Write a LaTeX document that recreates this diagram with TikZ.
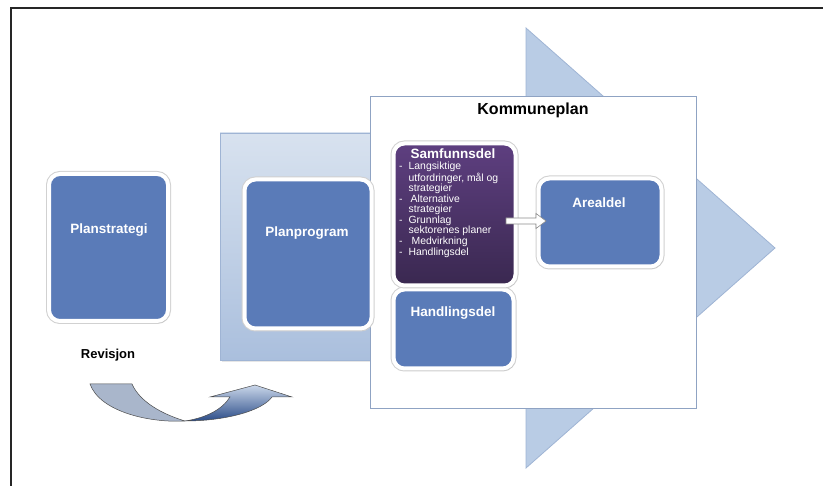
\documentclass[tikz,border=0pt]{standalone}
\usepackage{fontspec}
\setmainfont{Liberation Sans}
\usetikzlibrary{shadows,calc}
\definecolor{boxblue}{HTML}{5A7BB8}
\definecolor{purtop}{HTML}{5E3F80}
\definecolor{purbot}{HTML}{3A2850}
\definecolor{arrowblue}{HTML}{B9CCE5}
\definecolor{arrowedge}{HTML}{9FB4D4}
\definecolor{shafttop}{HTML}{D8E2EF}
\definecolor{shaftbot}{HTML}{AABFDD}
\definecolor{kpedge}{HTML}{8FA3C3}
\definecolor{curvleft}{HTML}{A9B6CB}
\definecolor{curvtop}{HTML}{CAD7EA}
\definecolor{curvbot}{HTML}{2B4C88}
\tikzset{
  box/.style={rounded corners=11pt, fill=boxblue, draw=white, line width=4pt,
    preaction={draw=black!18, line width=6pt},
    drop shadow={opacity=0.25, shadow xshift=1.5pt, shadow yshift=-2pt}},
  boxtext/.style={font=\fontsize{13.5}{15}\selectfont\bfseries, text=white, inner sep=0pt},
  listtext/.style={font=\fontsize{10.4}{10.1}\selectfont, text=white, inner sep=0pt, align=left, anchor=north west},
  blockarrow/.style={fill=white, draw=black!45, line width=0.6pt, line join=miter}
}
\begin{document}
\begin{tikzpicture}[x=1pt,y=-1pt]
\useasboundingbox (0,0) rectangle (823,486);
% frame
\draw[line width=2pt, black!85] (823,8) -- (11,8) -- (11,486);
% big arrow: shaft and head
\path[fill=arrowblue, draw=arrowedge, line width=0.8pt] (526,28) -- (775,248) -- (526,468) -- cycle;
\path[top color=shafttop, bottom color=shaftbot, draw=arrowedge, line width=0.8pt,
  drop shadow={opacity=0.2, shadow xshift=2pt, shadow yshift=-2pt}] (220,133) rectangle (526,360);
% Kommuneplan frame
\node[draw=kpedge, fill=white, line width=0.8pt, minimum width=326pt, minimum height=312pt, inner sep=0pt] (kp) at (533,252) {};
\node[font=\fontsize{16}{18}\selectfont\bfseries, inner sep=0pt] (kpt) at (533,110) {Kommuneplan};
% boxes
\node[box, minimum width=119pt, minimum height=147pt, inner sep=0pt] (ps) at (108.5,247.5) {};
\node[boxtext] (pst) at (109,230) {Planstrategi};
\node[font=\fontsize{13}{15}\selectfont\bfseries, inner sep=0pt] (rev) at (108,355) {Revisjon};
\node[box, minimum width=127pt, minimum height=149pt, inner sep=0pt] (pp) at (308,254) {};
\node[boxtext] (ppt) at (307,233) {Planprogram};
\node[box, minimum width=120pt, minimum height=79pt, inner sep=0pt] (hd) at (453.5,329) {};
\node[boxtext] (hdt) at (453,313) {Handlingsdel};
\node[box, top color=purtop, bottom color=purbot, minimum width=122pt, minimum height=142pt, inner sep=0pt] (sd) at (454.5,214.5) {};
\node[boxtext] (sdt) at (453,154) {Samfunnsdel};
\node[listtext] (sdl) at (399,162) {%
\begin{tabular}{@{}l@{\hspace{6pt}}l@{}}
- & Langsiktige\\
  & utfordringer, mål og\\
  & strategier\\
- & \hspace{2pt}Alternative\\
  & strategier\\
- & Grunnlag\\
  & sektorenes planer\\
- & \hspace{3pt}Medvirkning\\
- & Handlingsdel
\end{tabular}};
\node[box, minimum width=123pt, minimum height=88pt, inner sep=0pt] (ar) at (600,222.5) {};
\node[boxtext] (art) at (599,203) {Arealdel};
% block arrow Samfunnsdel -> Arealdel
\coordinate (sa0) at ($(sd.east)+(-11.5,6.5)$);
\coordinate (sa1) at ($(ar.west)+(9.5,-1.5)$);
\draw[blockarrow] ($(sa0)+(0,-3)$) -- ($(sa1)+(-10,-3)$) -- ($(sa1)+(-10,-7.5)$) -- (sa1)
  -- ($(sa1)+(-10,7.5)$) -- ($(sa1)+(-10,3)$) -- ($(sa0)+(0,3)$) -- cycle;
% curved Revisjon arrow
\path[fill=curvleft, draw=black!70, line width=0.5pt]
  (90,384) .. controls (100,412) and (150,423) .. (185,421)
  .. controls (162,414) and (140,402) .. (132,384) -- cycle;
\path[top color=curvtop, bottom color=curvbot, draw=black!70, line width=0.5pt]
  (185,421) .. controls (225,421) and (262,411) .. (272,397)
  -- (292,397) -- (255,385) -- (210,397) -- (230,397)
  .. controls (222,410) and (205,418) .. (185,421) -- cycle;
\end{tikzpicture}
\end{document}
